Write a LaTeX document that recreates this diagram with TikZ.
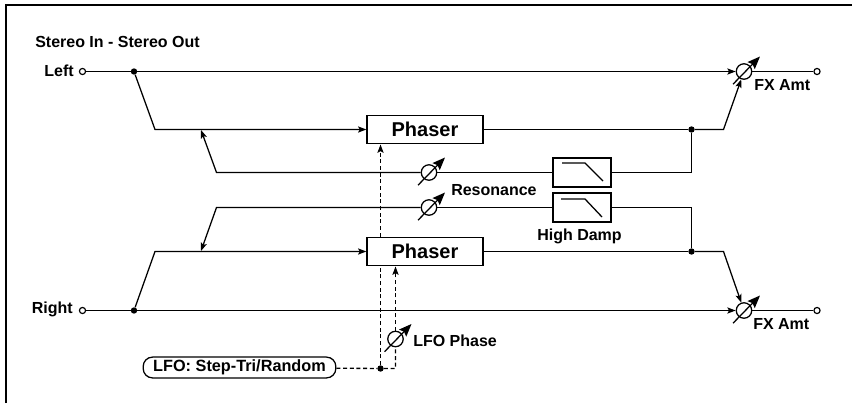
\documentclass[tikz,border=0pt]{standalone}
\usepackage{fontspec}
\setmainfont{Liberation Sans}
\usetikzlibrary{arrows.meta,calc}
\tikzset{
  wire/.style={line width=0.95pt,line join=miter},
  arrowwire/.style={wire,-{Stealth[length=6.2pt,width=4.6pt,inset=1.2pt]}},
  dashwire/.style={line width=1pt,dash pattern=on 3pt off 2pt},
  dasharrow/.style={dashwire,-{Stealth[length=6.2pt,width=4.6pt,inset=1.2pt]}},
  port/.style={circle,draw,line width=0.9pt,fill=white,minimum size=4.6pt,inner sep=0pt},
  joint/.style={circle,fill=black,minimum size=4.8pt,inner sep=0pt},
  label/.style={font=\bfseries\fontsize{12}{14}\selectfont,inner sep=0pt},
  block/.style={draw,line width=0.95pt,fill=white,inner sep=0pt,minimum width=87pt,minimum height=21.5pt,font=\bfseries\fontsize{15}{17}\selectfont},
  filterbox/.style={draw,line width=0.95pt,fill=white,inner sep=0pt,minimum width=43.5pt,minimum height=21.8pt},
  knob/.style={circle,draw,line width=0.95pt,fill=white,minimum size=11.6pt,inner sep=0pt},
  knobarrow/.style={line width=0.95pt,-{Stealth[length=9.5pt,width=7.5pt,inset=1.5pt]}},
  lfobox/.style={draw,line width=0.95pt,rounded corners=7pt,fill=white,inner sep=0pt,minimum width=144.5pt,minimum height=15.6pt,font=\bfseries\fontsize{12.2}{14}\selectfont}
}
\begin{document}
\begin{tikzpicture}[x=0.75pt,y=-0.75pt]
\useasboundingbox (0,0) rectangle (852,403);
\draw[line width=1.6pt] (6,403) -- (6,5) -- (852,5);

\node[label,anchor=base west] (title) at (35,48) {Stereo In - Stereo Out};
\node[label,anchor=base east] (leftlab) at (74,77) {Left};
\node[label,anchor=base east] (rightlab) at (73,313) {Right};

% ports and joints
\node[port] (inL) at (82.5,71.5) {};
\node[port] (inR) at (82.5,310.5) {};
\node[port] (outL) at (817,71.5) {};
\node[port] (outR) at (817,310.5) {};
\node[joint] (jL) at (134,71.5) {};
\node[joint] (jR) at (134,310.5) {};
\node[joint] (fbU) at (691.5,129.5) {};
\node[joint] (fbD) at (691.5,251.5) {};
\node[joint] (jLFO) at (380.5,368.5) {};

% blocks
\node[block] (ph1) at (425,129.5) {Phaser};
\node[block] (ph2) at (425,251.5) {Phaser};
\node[filterbox] (hd1) at (582,172.5) {};
\node[filterbox] (hd2) at (582,207.5) {};
\node[lfobox] (lfo) at (239.5,367.5) {LFO: Step-Tri/Random};

% knobs
\node[knob] (kFXL) at (744,71.5) {};
\node[knob] (kFXR) at (744,310.5) {};
\node[knob] (kRes1) at (429,172.5) {};
\node[knob] (kRes2) at (429,207.5) {};
\node[knob] (kLFO) at (395.5,339) {};

% bend points
\coordinate (a1) at (155,129.5);
\coordinate (a2) at (155,251.5);
\coordinate (b1) at (723.5,129.5);
\coordinate (b2) at (723.5,251.5);
\coordinate (c1) at (216.5,172.5);
\coordinate (c2) at (216.5,207.5);
\coordinate (d1) at (201,130);
\coordinate (d2) at (201,251);
\coordinate (e) at (395.5,368.5);

% main wires
\draw[wire] (inL) -- (jL);
\draw[wire] (inR) -- (jR);
\draw[arrowwire] (jL) -- (kFXL);
\draw[arrowwire] (jR) -- (kFXR);
\draw[wire] (kFXL) -- (outL);
\draw[wire] (kFXR) -- (outR);
\draw[arrowwire] (jL) -- (a1) -- (ph1);
\draw[arrowwire] (jR) -- (a2) -- (ph2);
\draw[wire] (ph1) -- (fbU);
\draw[wire] (ph2) -- (fbD);
\draw[arrowwire] (fbU) -- (b1) -- (kFXL);
\draw[arrowwire] (fbD) -- (b2) -- (kFXR);

% feedback
\draw[wire] (fbU) |- (hd1);
\draw[wire] (fbD) |- (hd2);
\draw[wire] (hd1) -- (kRes1);
\draw[wire] (hd2) -- (kRes2);
\draw[arrowwire] (kRes1) -- (c1) -- (d1);
\draw[arrowwire] (kRes2) -- (c2) -- (d2);

% LFO
\coordinate (t1) at (380.5,144.5);
\coordinate (t2) at (395.5,266.5);
\coordinate (t3) at (380.5,265.5);
\coordinate (t4) at (380.5,236.5);
\draw[dashwire] (lfo) -- (jLFO) -- (e) -- (kLFO);
\draw[dasharrow] (kLFO) -- (t2);
\draw[dashwire] (jLFO) -- (t3);
\draw[dasharrow] (t4) -- (t1);

% knob needles
\foreach \k in {kFXL,kFXR,kRes1,kRes2,kLFO}{
  \draw[knobarrow] ($(\k)+(-11,12.7)$) -- ($(\k)+(16,-15)$);
}

% filter curves
\draw[wire] (562,163) -- (585,163) -- (603,181);
\draw[wire] (561,199) -- (585,199) -- (602,217);

% labels
\node[label,anchor=base west] (lbFX1) at (754,90.7) {FX Amt};
\node[label,anchor=base west] (lbFX2) at (753,329.3) {FX Amt};
\node[label,anchor=base west] (lbRes) at (451,195) {Resonance};
\node[label,anchor=base west] (lbHD) at (537,240) {High Damp};
\node[label,anchor=base west] (lbLFO) at (413,346) {LFO Phase};
\end{tikzpicture}
\end{document}
